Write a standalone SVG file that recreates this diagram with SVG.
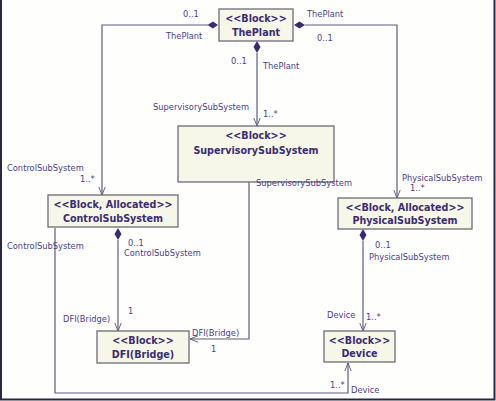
<svg xmlns="http://www.w3.org/2000/svg" width="496" height="401" viewBox="0 0 496 401">
<style>
.box{fill:#f6f7e9;stroke:#6e6b78;stroke-width:1.3}
.bt{font-family:"DejaVu Sans",Verdana,sans-serif;font-weight:bold;font-size:9.6px;fill:#3b2c72;text-anchor:middle}
.lb{font-family:"DejaVu Sans",Verdana,sans-serif;font-size:8.3px;fill:#4b3d86}
.ln{fill:none;stroke:#5f5a86;stroke-width:1.2}
.dm{fill:#3a2a70}
</style>
<defs>
<marker id="arr" viewBox="0 0 10 10" refX="10" refY="5" markerWidth="8" markerHeight="8" orient="auto" markerUnits="userSpaceOnUse">
<path d="M0,1 L10,5 L0,9" fill="none" stroke="#5f5a86" stroke-width="1.2"/>
</marker>
</defs>
<rect x="0" y="0" width="496" height="401" fill="#fefefd"/>
<path d="M1,0 V399.5 H494.5 V0" fill="none" stroke="#2c2740" stroke-width="2"/>
<g id="connectors">
<path class="ln" d="M208,25 H102 V195" marker-end="url(#arr)"/>
<path class="dm" d="M218,25 L213,21.5 L207.5,25 L213,28.5 Z"/>
<path class="ln" d="M305,25 H397 V198" marker-end="url(#arr)"/>
<path class="dm" d="M294,25 L299.5,21.5 L305,25 L299.5,28.5 Z"/>
<path class="ln" d="M257,53 V126" marker-end="url(#arr)"/>
<path class="dm" d="M257,41 L260.5,47 L257,53 L253.5,47 Z"/>
<path class="ln" d="M249,182 V339 H190" marker-end="url(#arr)"/>
<path class="ln" d="M118,240 V331" marker-end="url(#arr)"/>
<path class="dm" d="M118,228 L121.5,234 L118,240 L114.5,234 Z"/>
<path class="ln" d="M55,228 V393 H348 V363" marker-end="url(#arr)"/>
<path class="ln" d="M363,241 V331" marker-end="url(#arr)"/>
<path class="dm" d="M363,229 L366.5,235 L363,241 L359.5,235 Z"/>
</g>
<g id="ThePlant">
<rect class="box" x="219" y="9" width="74" height="32"/>
<text class="bt" x="256" y="21.5">&lt;&lt;Block&gt;&gt;</text>
<text class="bt" x="256" y="35.5">ThePlant</text>
</g>
<g id="SupervisorySubSystem">
<rect class="box" x="178" y="126" width="156" height="56"/>
<text class="bt" x="256" y="139">&lt;&lt;Block&gt;&gt;</text>
<text class="bt" x="256" y="153.5">SupervisorySubSystem</text>
</g>
<g id="ControlSubSystem">
<rect class="box" x="48" y="195" width="130" height="32"/>
<text class="bt" x="113" y="207.5">&lt;&lt;Block, Allocated&gt;&gt;</text>
<text class="bt" x="113" y="221.5">ControlSubSystem</text>
</g>
<g id="PhysicalSubSystem">
<rect class="box" x="338" y="198" width="134" height="31"/>
<text class="bt" x="405" y="210.5">&lt;&lt;Block, Allocated&gt;&gt;</text>
<text class="bt" x="405" y="224">PhysicalSubSystem</text>
</g>
<g id="DFIBridge">
<rect class="box" x="97" y="331" width="92" height="32"/>
<text class="bt" x="143" y="343.5">&lt;&lt;Block&gt;&gt;</text>
<text class="bt" x="143" y="357.5">DFI(Bridge)</text>
</g>
<g id="Device">
<rect class="box" x="324" y="331" width="71" height="31"/>
<text class="bt" x="359.5" y="343.5">&lt;&lt;Block&gt;&gt;</text>
<text class="bt" x="359.5" y="357">Device</text>
</g>
<g id="labels">
<text class="lb" x="183" y="17">0..1</text>
<text class="lb" x="166" y="39">ThePlant</text>
<text class="lb" x="307" y="17">ThePlant</text>
<text class="lb" x="317" y="41">0..1</text>
<text class="lb" x="231" y="64">0..1</text>
<text class="lb" x="263" y="69">ThePlant</text>
<text class="lb" x="153" y="110">SupervisorySubSystem</text>
<text class="lb" x="263" y="117">1..*</text>
<text class="lb" x="7" y="171">ControlSubSystem</text>
<text class="lb" x="80" y="182">1..*</text>
<text class="lb" x="256" y="186">SupervisorySubSystem</text>
<text class="lb" x="402" y="181">PhysicalSubSystem</text>
<text class="lb" x="410" y="191">1..*</text>
<text class="lb" x="7" y="249">ControlSubSystem</text>
<text class="lb" x="128" y="246">0..1</text>
<text class="lb" x="124" y="256">ControlSubSystem</text>
<text class="lb" x="375" y="248">0..1</text>
<text class="lb" x="369" y="260">PhysicalSubSystem</text>
<text class="lb" x="128" y="314">1</text>
<text class="lb" x="63" y="322">DFI(Bridge)</text>
<text class="lb" x="192" y="336">DFI(Bridge)</text>
<text class="lb" x="211" y="352">1</text>
<text class="lb" x="327" y="318">Device</text>
<text class="lb" x="366" y="320">1..*</text>
<text class="lb" x="330" y="388">1..*</text>
<text class="lb" x="351" y="393">Device</text>
</g>
</svg>
